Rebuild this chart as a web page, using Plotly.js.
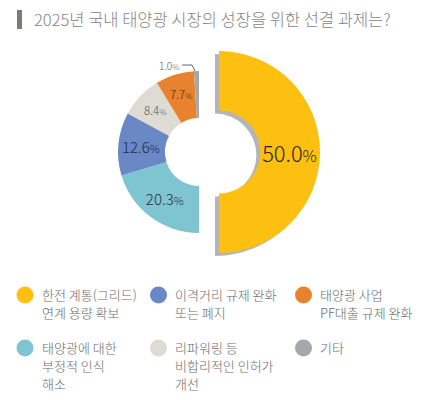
<!DOCTYPE html>
<html><head><meta charset="utf-8">
<script src="https://cdn.plot.ly/plotly-3.0.1.min.js"></script>
<style>html,body{margin:0;padding:0;background:#fff;} #chart{width:428px;height:400px;}</style>
</head><body><div id="chart"></div>
<script>
// ---- data ----
const categories = ['한전 계통(그리드)<br>연계 용량 확보','태양광에 대한<br>부정적 인식<br>해소','이격거리 규제 완화<br>또는 폐지','리파워링 등<br>비합리적인 인허가<br>개선','태양광 사업<br>PF대출 규제 완화','기타'];
const shares = [50.0, 20.3, 12.6, 8.4, 7.7, 1.0];
const colors = ['#fec010','#7fc5d1','#6a88c5','#dddbd4','#e8822e','#a6a7aa'];
const labelColors = ['#231f20','#1f2d3d','#1f2b48','#555555','#4a2c14','#5a5a5a'];
const labelSizes = [22,15,15,11.5,11.5,10];
const titleText = '2025년 국내 태양광 시장의 성장을 위한 선결 과제는?';

// ---- helpers ----
const W = 428, H = 400;
const px = x => x / W;
const py = y => 1 - y / H;
const dom = (cx, cy, r) => ({x:[px(cx - r), px(cx + r)], y:[py(cy + r), py(cy - r)]});
const FONT = '"Noto Sans CJK KR", "Noto Sans", sans-serif';
const T = 'rgba(0,0,0,0)';
const pctSpan = i => '<span style="font-size:' + Math.round(labelSizes[i]*0.72) + 'px">%</span>';
const tmpl = i => '%{value:.1f}' + pctSpan(i);

const bigIdx = 0;                 // highlighted slice
const last = shares.length - 1;   // tiny slice labelled outside
const annotated = [3, 4];         // narrow slices labelled via computed annotations
const bigCenter = [219, 152], bigR = 101;
const smallCenter = [199, 152], smallR = 81, labelR = 61;

const common = {
  type:'pie', values: shares, labels: categories, sort:false, direction:'clockwise', rotation:0,
  hoverinfo:'none', showlegend:false, textposition:'inside', insidetextorientation:'horizontal'
};

const shadow = Object.assign({}, common, {
  domain: dom(bigCenter[0]-4, bigCenter[1]+3, bigR), hole: 0.41,
  marker:{colors: shares.map((v,i)=> i===bigIdx ? 'rgba(90,90,90,0.45)' : T), line:{width:0}},
  texttemplate: shares.map(()=> '')
});
const big = Object.assign({}, common, {
  domain: dom(bigCenter[0], bigCenter[1], bigR), hole: 0.41,
  marker:{colors: shares.map((v,i)=> i===bigIdx ? colors[i] : T), line:{width:0}},
  texttemplate: shares.map((v,i)=> i===bigIdx ? tmpl(i) : ''),
  textfont:{family:FONT, color: labelColors, size: labelSizes, weight:300}
});
const small = Object.assign({}, common, {
  domain: dom(smallCenter[0], smallCenter[1], smallR), hole: 0.42,
  marker:{colors: shares.map((v,i)=> i===bigIdx ? T : colors[i]), line:{width:0}},
  texttemplate: shares.map((v,i)=> (i===bigIdx || i===last || annotated.includes(i)) ? '' : tmpl(i)),
  textfont:{family:FONT, color: labelColors, size: labelSizes, weight:300}
});

// ---- annotations & shapes ----
const annotations = [];
const shapes = [];

// title
shapes.push({type:'rect', xref:'paper', yref:'paper', x0:px(17), x1:px(22), y0:py(29), y1:py(10), fillcolor:'#7f7a78', line:{width:0}});
annotations.push({xref:'paper', yref:'paper', x:px(32), y:py(19.5), xanchor:'left', yanchor:'middle', showarrow:false,
  text:titleText, font:{family:FONT, size:16.5, color:'#858585', weight:300}});

// labels for narrow slices, positioned at each slice's mid-angle
const total = shares.reduce((a,b)=>a+b, 0);
let cum = 0;
shares.forEach((v, i) => {
  const mid = (cum + v/2) / total * 2 * Math.PI;
  cum += v;
  if (!annotated.includes(i)) return;
  annotations.push({xref:'paper', yref:'paper',
    x: px(smallCenter[0] + labelR*Math.sin(mid)), y: py(smallCenter[1] - labelR*Math.cos(mid)),
    xanchor:'center', yanchor:'middle', showarrow:false,
    text: v.toFixed(1) + pctSpan(i), font:{family:FONT, size:labelSizes[i], color:labelColors[i], weight:300}});
});

// 1.0% outside label with leader
annotations.push({xref:'paper', yref:'paper', x:px(181), y:py(65.5), xanchor:'right', yanchor:'middle', showarrow:false,
  text: shares[last].toFixed(1) + '<span style="font-size:8px">%</span>', font:{family:FONT, size:labelSizes[last], color:labelColors[last], weight:300}});
shapes.push({type:'path', xref:'paper', yref:'paper',
  path:'M '+px(182)+' '+py(65)+' L '+px(192)+' '+py(65)+' L '+px(195)+' '+py(71),
  line:{color:'#666', width:1}});

// legend (custom grid: 3 columns x 2 rows)
const colCircleX = [25, 158.5, 303.5];
const colTextX = [40, 173, 318];
const rowTop = [294, 347];
const lineGap = 18;
categories.forEach((c, i) => {
  const col = Math.floor(i / 2), row = i % 2;
  const cx = colCircleX[col], cy = rowTop[row] + 1;
  shapes.push({type:'circle', xref:'paper', yref:'paper', x0:px(cx-8.5), x1:px(cx+8.5), y0:py(cy+8.5), y1:py(cy-8.5),
    fillcolor: colors[i], line:{width:0}});
  c.split('<br>').forEach((ln, k) => {
    annotations.push({xref:'paper', yref:'paper', x:px(colTextX[col]), y:py(rowTop[row] + k*lineGap), xanchor:'left', yanchor:'middle',
      showarrow:false, text:ln, font:{family:FONT, size:13, color:'#6b6b6b', weight:300}});
  });
});

const layout = {
  width:W, height:H, margin:{l:0,r:0,t:0,b:0}, paper_bgcolor:'#fff', plot_bgcolor:'#fff',
  showlegend:false, annotations, shapes, font:{family:FONT}
};
Plotly.newPlot('chart', [shadow, big, small], layout, {staticPlot:true, displayModeBar:false});
</script>
</body></html>
